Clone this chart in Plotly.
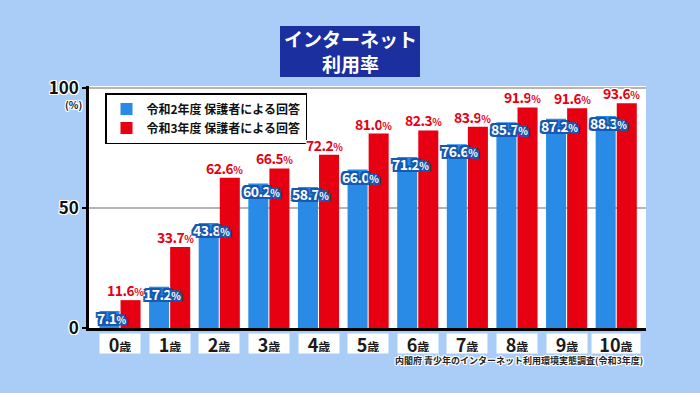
import plotly.graph_objects as go

ages = ["0", "1", "2", "3", "4", "5", "6", "7", "8", "9", "10"]
r2_values = [7.1, 17.2, 43.8, 60.2, 58.7, 66.0, 71.2, 76.6, 85.7, 87.2, 88.3]
r3_values = [11.6, 33.7, 62.6, 66.5, 72.2, 81.0, 82.3, 83.9, 91.9, 91.6, 93.6]
series_names = ["令和2年度 保護者による回答", "令和3年度 保護者による回答"]
title_text = "インターネット<br>利用率"
source_text = "内閣府 青少年のインターネット利用環境実態調査(令和3年度)"

W, H = 700, 393
L, R, T, B = 89, 54, 86, 65
PW, PH = W - L - R, H - T - B

def px(x):
    return (x - L) / PW

def py(y):
    return (H - B - y) / PH

FONT = "Noto Sans CJK JP"
BLUE = "#2a8be6"
RED = "#e60012"
DBLUE = "#1558b0"

def outline(c, w=1):
    parts = []
    for dx in (-w, 0, w):
        for dy in (-w, 0, w):
            if dx or dy:
                parts.append(f"{dx}px {dy}px 0 {c}")
    return ", ".join(parts)

def pct(v):
    return (f"<span style='letter-spacing:-0.5px'>{v:.1f}</span>"
            f"<span style='font-size:10px'>%</span>")

xs = list(range(len(ages)))
fig = go.Figure()
fig.add_bar(x=xs, y=r2_values, name=series_names[0], marker=dict(color=BLUE, line=dict(width=0)))
fig.add_bar(x=xs, y=r3_values, name=series_names[1], marker=dict(color=RED, line=dict(width=0)))

ann = []
bw = 0.85 * 0.95 / 2
off = bw / 2 + 0.85 * 0.05 / 4
for i, b in enumerate(r3_values):
    ann.append(dict(x=i + off, y=b, xref="x", yref="y", yanchor="bottom", yshift=-2, xshift=-5,
                    text=pct(b), showarrow=False,
                    font=dict(family=FONT, size=14, color=RED, weight="bold",
                              shadow=outline("white", 1))))
for i, a in enumerate(r2_values):
    ann.append(dict(x=i - off, y=a, xref="x", yref="y", yanchor="top", yshift=5, xshift=3,
                    text=pct(a), showarrow=False,
                    font=dict(family=FONT, size=14, color="white", weight="bold",
                              shadow=outline(DBLUE, 1) + ", " + outline(DBLUE, 2))))
for i, g in enumerate(ages):
    ann.append(dict(x=i, y=py(343.5), xref="x", yref="paper", yanchor="middle",
                    text=f"{g}<span style='font-size:12px'>歳</span>", showarrow=False,
                    bgcolor="white", width=46 if len(g) > 1 else 38, height=17,
                    font=dict(family=FONT, size=18, color="#1a1a1a", weight="bold")))

ann.append(dict(x=px(73), y=py(104), xref="paper", yref="paper", text="(%)", showarrow=False,
                xanchor="center", yanchor="middle",
                font=dict(family=FONT, size=10, color="#111", weight="bold", shadow=outline("white", 1))))
ann.append(dict(x=px(350), y=py(51), xref="paper", yref="paper", xanchor="center", yanchor="middle",
                text=title_text, showarrow=False, align="center",
                font=dict(family=FONT, size=19, color="white", weight="bold")))
ann.append(dict(x=px(645), y=py(360), xref="paper", yref="paper", xanchor="right", yanchor="middle",
                text=source_text, showarrow=False,
                font=dict(family=FONT, size=9, color="#222", weight="bold", shadow=outline("white", 1))))

shapes = [dict(type="rect", xref="paper", yref="paper", x0=px(280), x1=px(420), y0=py(77), y1=py(26),
               fillcolor="#1b2f9f", line=dict(width=0), layer="below")]

fig.update_layout(
    width=W, height=H,
    margin=dict(l=L, r=R, t=T, b=B),
    paper_bgcolor="#a9cdf6", plot_bgcolor="white",
    barmode="group", bargap=0.15, bargroupgap=0.05,
    annotations=ann, shapes=shapes,
    legend=dict(x=px(105), y=py(93), xanchor="left", yanchor="top", bgcolor="white",
                bordercolor="black", borderwidth=1.5, tracegroupgap=0, itemwidth=30,
                font=dict(family=FONT, size=12, color="#111", weight="bold")),
    xaxis=dict(range=[-0.625, 10.6], showticklabels=False, showgrid=False, zeroline=False,
               showline=True, linecolor="black", linewidth=2.5, fixedrange=True),
    yaxis=dict(range=[0, PH / 2.4], tickvals=[0, 50, 100], ticktext=["0", "50", "100"],
               showgrid=True, gridcolor="#b4b4b4", gridwidth=2, zeroline=False,
               showline=True, linecolor="black", linewidth=2.5, ticks="outside", ticklen=4,
               tickcolor="black", tickwidth=2, fixedrange=True,
               tickfont=dict(family=FONT, size=17, color="#111", weight="bold", shadow=outline("white", 1))),
    showlegend=True,
)
fig.write_html("out.html", config={"displayModeBar": False},
               post_script="document.body.style.margin='0';")
